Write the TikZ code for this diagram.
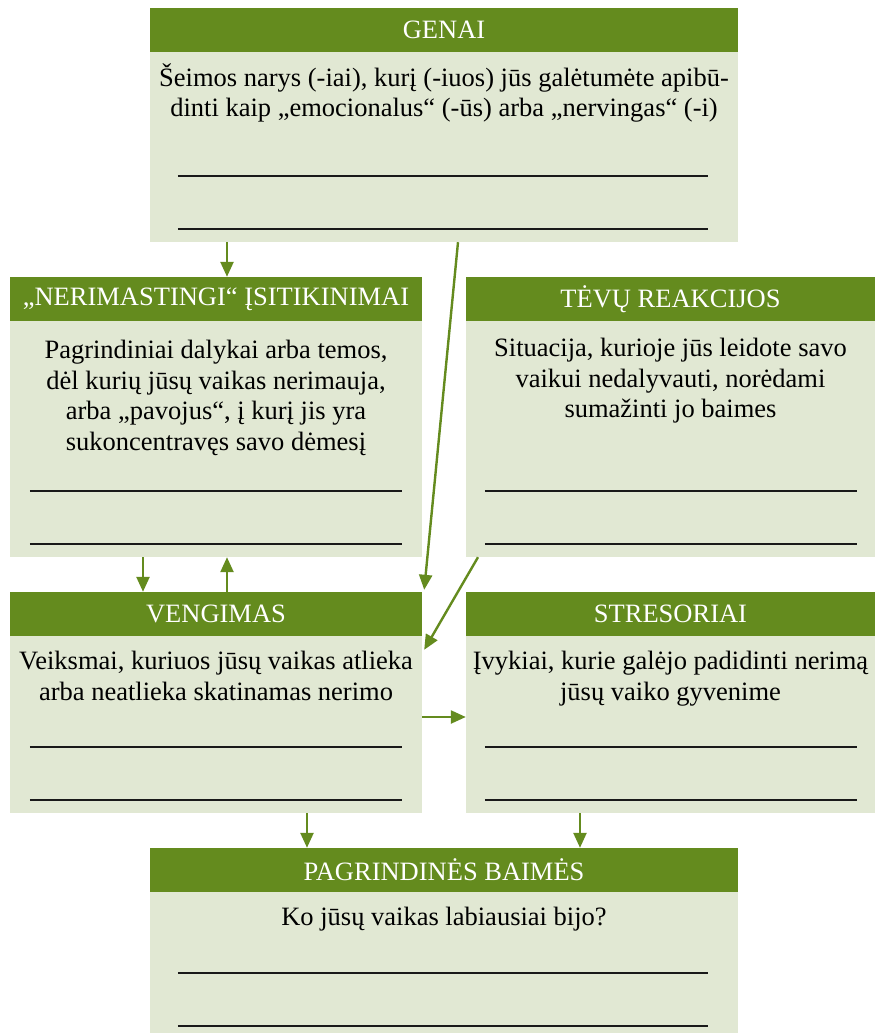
\documentclass[tikz,border=0pt]{standalone}
\usepackage{fontspec}
\setmainfont{Liberation Serif}
\usetikzlibrary{arrows.meta}
\definecolor{hgreen}{RGB}{100,139,30}
\definecolor{pale}{RGB}{225,232,211}
\tikzset{
  panel/.style={fill=pale, inner sep=0, minimum width=#1},
  head/.style={fill=hgreen, text=white, inner sep=0, minimum height=44,
    minimum width=#1, anchor=north, font=\fontsize{26.5}{30}\selectfont},
  body/.style={align=center, inner sep=0, anchor=north,
    font=\fontsize{26.5}{30.5}\selectfont},
  rule/.style={line width=1.5pt, black!90},
  arr/.style={line width=2.4pt, hgreen, -{Triangle[width=13pt,length=15pt]}}
}
% two blank lines for writing, near the bottom of a panel
\newcommand{\blanks}[3]{%
  \draw[rule] ([xshift=#2,yshift=66]#1.south west) -- ([xshift=-#3,yshift=66]#1.south east);
  \draw[rule] ([xshift=#2,yshift=13]#1.south west) -- ([xshift=-#3,yshift=13]#1.south east);}
\begin{document}
\begin{tikzpicture}[x=1pt, y=-1pt]
  \useasboundingbox (0,0) rectangle (875,1033);
  % panels
  \node[panel=588, minimum height=234] (genai) at (444,125) {};
  \node[panel=412, minimum height=280] (nerim) at (216,417) {};
  \node[panel=409, minimum height=280] (tevu) at (670.5,417) {};
  \node[panel=412, minimum height=221] (veng) at (216,702.5) {};
  \node[panel=409, minimum height=221] (stres) at (670.5,702.5) {};
  \node[panel=588, minimum height=191] (baim) at (444,943.5) {};
  % headings
  \node[head=588] (genaih) at (genai.north) {GENAI};
  \node[head=412] (nerimh) at (nerim.north) {„NERIMASTINGI“ ĮSITIKINIMAI};
  \node[head=409] (tevuh) at (tevu.north) {TĖVŲ REAKCIJOS};
  \node[head=412] (vengh) at (veng.north) {VENGIMAS};
  \node[head=409] (stresh) at (stres.north) {STRESORIAI};
  \node[head=588] (baimh) at (baim.north) {PAGRINDINĖS BAIMĖS};
  % texts
  \node[body] (genait) at ([yshift=-11]genaih.south)
    {Šeimos narys (-iai), kurį (-iuos) jūs galėtumėte apibū-\\dinti kaip „emocionalus“ (-ūs) arba „nervingas“ (-i)};
  \node[body] (nerimt) at ([yshift=-19]nerimh.south)
    {Pagrindiniai dalykai arba temos,\\dėl kurių jūsų vaikas nerimauja,\\arba „pavojus“, į kurį jis yra\\sukoncentravęs savo dėmesį};
  \node[body] (tevut) at ([yshift=-17]tevuh.south)
    {Situacija, kurioje jūs leidote savo\\vaikui nedalyvauti, norėdami\\sumažinti jo baimes};
  \node[body] (vengt) at ([yshift=-15]vengh.south)
    {Veiksmai, kuriuos jūsų vaikas atlieka\\arba neatlieka skatinamas nerimo};
  \node[body] (stresx) at ([yshift=-15]stresh.south)
    {Įvykiai, kurie galėjo padidinti nerimą\\jūsų vaiko gyvenime};
  \node[body] (baimt) at ([yshift=-15]baimh.south)
    {Ko jūsų vaikas labiausiai bijo?};
  % lines to write on
  \blanks{genai}{28}{30}
  \blanks{nerim}{20}{20}
  \blanks{tevu}{19}{18}
  \blanks{veng}{20}{20}
  \blanks{stres}{19}{18}
  \blanks{baim}{28}{30}
  % arrows
  \draw[arr] ([xshift=-217]genai.south) -- ([xshift=11]nerim.north);
  \draw[arr] ([xshift=14]genai.south) -- ([xshift=2,yshift=2]veng.north east);
  \draw[arr] ([xshift=-192.5]tevu.south) -- ([xshift=2,yshift=-58]veng.north east);
  \draw[arr] ([xshift=-73]nerim.south) -- ([xshift=-73]veng.north);
  \draw[arr] ([xshift=11]veng.north) -- ([xshift=11]nerim.south);
  \draw[arr] ([yshift=-14.5]veng.east) -- ([yshift=-14.5]stres.west);
  \draw[arr] ([xshift=91]veng.south) -- ([xshift=-137]baim.north);
  \draw[arr] ([xshift=-90.5]stres.south) -- ([xshift=136]baim.north);
\end{tikzpicture}
\end{document}
